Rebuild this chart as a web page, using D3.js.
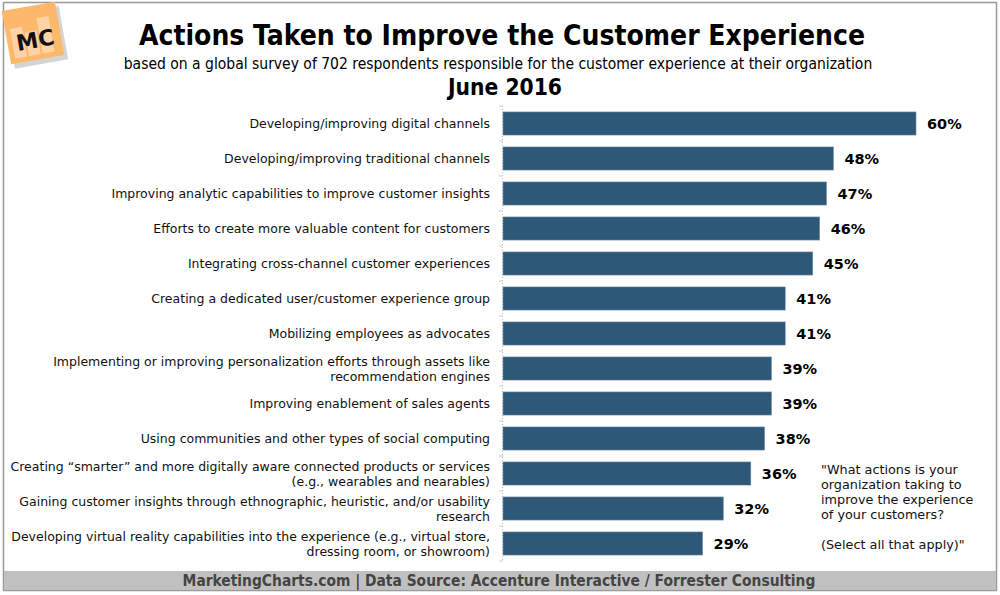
<!DOCTYPE html>
<html><head><meta charset="utf-8">
<script src="https://cdn.jsdelivr.net/npm/d3@7"></script>
<style>
html,body{margin:0;padding:0;background:#fff;}
svg{display:block;}
</style></head>
<body>
<svg id="c" width="1000" height="595"></svg>
<script>
const categories = [
  ["Developing/improving digital channels"],
  ["Developing/improving traditional channels"],
  ["Improving analytic capabilities to improve customer insights"],
  ["Efforts to create more valuable content for customers"],
  ["Integrating cross-channel customer experiences"],
  ["Creating a dedicated user/customer experience group"],
  ["Mobilizing employees as advocates"],
  ["Implementing or improving personalization efforts through assets like", "recommendation engines"],
  ["Improving enablement of sales agents"],
  ["Using communities and other types of social computing"],
  ["Creating \u201csmarter\u201d and more digitally aware connected products or services", "(e.g., wearables and nearables)"],
  ["Gaining customer insights through ethnographic, heuristic, and/or usability", "research"],
  ["Developing virtual reality capabilities into the experience (e.g., virtual store,", "dressing room, or showroom)"]
];
const values = [60, 48, 47, 46, 45, 41, 41, 39, 39, 38, 36, 32, 29];
const valueLabels = values.map(v => v + "%");
const title = "Actions Taken to Improve the Customer Experience";
const subtitle = "based on a global survey of 702 respondents responsible for the customer experience at their organization";
const dateLabel = "June 2016";
const noteLines = ["\"What actions is your", "organization taking to", "improve the experience", "of your customers?", "", "(Select all that apply)\""];
const footer = "MarketingCharts.com | Data Source: Accenture Interactive / Forrester Consulting";

const svg = d3.select("#c");
const condensed = "'DejaVu Sans Condensed', 'DejaVu Sans', sans-serif";
const verdana = "'DejaVu Sans', Verdana, sans-serif";

// frame
svg.append("rect").attr("x", 3.5).attr("y", 2.5).attr("width", 993).attr("height", 588)
  .attr("fill", "#fff").attr("stroke", "#999").attr("stroke-width", 1.5);
// footer band
svg.append("rect").attr("x", 4).attr("y", 571).attr("width", 992).attr("height", 19).attr("fill", "#c0c0c0");
svg.append("text").attr("x", 499).attr("y", 586).attr("text-anchor", "middle")
  .attr("font-family", condensed).attr("font-weight", "bold").attr("font-size", 15.4).attr("fill", "#444")
  .text(footer);

// logo
const logo = svg.append("g").attr("transform", "translate(33,33) rotate(-10)");
logo.append("rect").attr("x", -24).attr("y", -22).attr("width", 54).attr("height", 54).attr("fill", "#aaa").attr("opacity", 0.5);
logo.append("rect").attr("x", -27).attr("y", -27).attr("width", 54).attr("height", 54).attr("fill", "#fdb96b");
[[-22, -8, 12, 30], [-8, -2, 12, 24], [6, -14, 12, 36]].forEach(b => {
  logo.append("rect").attr("x", b[0]).attr("y", b[1]).attr("width", b[2]).attr("height", b[3]).attr("fill", "#fdd2a6");
});
logo.append("text").attr("x", 1).attr("y", 15).attr("text-anchor", "middle")
  .attr("font-family", verdana).attr("font-weight", "bold").attr("font-size", 22).attr("fill", "#111").text("MC");

// titles
svg.append("text").attr("x", 502).attr("y", 45).attr("text-anchor", "middle")
  .attr("font-family", condensed).attr("font-weight", "bold").attr("font-size", 28).attr("fill", "#000").text(title);
svg.append("text").attr("x", 498).attr("y", 69).attr("text-anchor", "middle")
  .attr("font-family", condensed).attr("font-size", 15.5).attr("fill", "#000").text(subtitle);
svg.append("text").attr("x", 505).attr("y", 95).attr("text-anchor", "middle")
  .attr("font-family", condensed).attr("font-weight", "bold").attr("font-size", 22.6).attr("fill", "#000").text(dateLabel);

// scales
const x = d3.scaleLinear().domain([0, 60]).range([503, 916]);
const y = d3.scaleBand().domain(d3.range(categories.length)).range([106, 561]).paddingInner(0.34).paddingOuter(0.17);

// axis (dotted line + ticks at band boundaries)
svg.append("line").attr("x1", x(0) - 0.5).attr("x2", x(0) - 0.5).attr("y1", 106).attr("y2", 561)
  .attr("stroke", "#bbb").attr("stroke-dasharray", "1,2");
d3.range(categories.length + 1).forEach(i => {
  const yy = 106 + i * (455 / categories.length);
  svg.append("line").attr("x1", x(0) - 4).attr("x2", x(0)).attr("y1", yy).attr("y2", yy).attr("stroke", "#ccc");
});

// bars
svg.selectAll("rect.bar").data(values).enter().append("rect").attr("class", "bar")
  .attr("x", x(0)).attr("y", (d, i) => y(i)).attr("width", d => x(d) - x(0)).attr("height", y.bandwidth())
  .attr("fill", "#2e5878").attr("stroke", "#6f8ea6").attr("stroke-width", 0.6);

// value labels
svg.selectAll("text.val").data(values).enter().append("text").attr("class", "val")
  .attr("x", d => x(d) + 11).attr("y", (d, i) => y(i) + y.bandwidth() / 2 + 5.5)
  .attr("font-family", verdana).attr("font-weight", "bold").attr("font-size", 14.5).attr("fill", "#000")
  .text((d, i) => valueLabels[i]);

// category labels
categories.forEach((lines, i) => {
  const cy = y(i) + y.bandwidth() / 2;
  const t = svg.append("text").attr("text-anchor", "end").attr("font-family", verdana).attr("font-size", 12.5).attr("fill", "#111");
  const n = lines.length;
  lines.forEach((l, j) => {
    t.append("tspan").attr("x", 490).attr("y", cy + 4.5 + (j - (n - 1) / 2) * 15).text(l);
  });
});

// note
const note = svg.append("text").attr("font-family", verdana).attr("font-size", 12.8).attr("fill", "#111");
noteLines.forEach((l, j) => {
  note.append("tspan").attr("x", 821).attr("y", 474 + j * 15).text(l);
});
</script>
</body></html>
